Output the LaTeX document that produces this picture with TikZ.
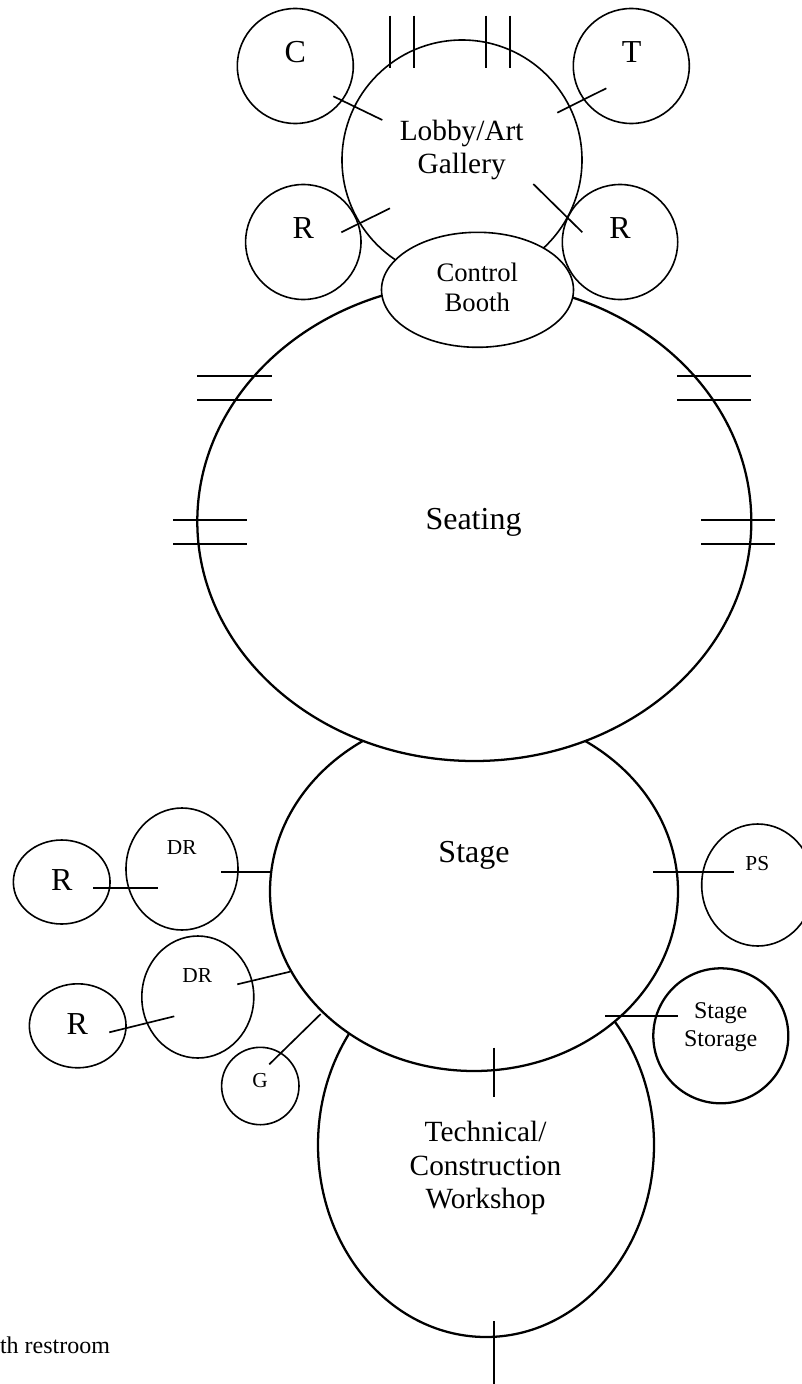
\documentclass[tikz,border=0pt]{standalone}
\usepackage{fontspec}
\setmainfont{Liberation Serif}
\usetikzlibrary{shapes.geometric}
\tikzset{
  bubble/.style 2 args={ellipse,draw=black,inner sep=0pt,outer sep=0pt,minimum width=#1*0.75pt,minimum height=#2*0.75pt},
  thin line/.style={line width=1.2pt},
  thick line/.style={line width=1.7pt},
  filled/.style={fill=white},
  tick/.style={draw=black,line width=1.25pt},
  lab/.style={anchor=base,inner sep=0pt,outer sep=0pt,text=black},
  L32/.style={lab,font=\fontsize{24pt}{24pt}\selectfont},
  L29/.style={lab,font=\fontsize{22pt}{22pt}\selectfont},
  L27/.style={lab,font=\fontsize{20pt}{20pt}\selectfont},
  L24/.style={lab,font=\fontsize{18pt}{18pt}\selectfont},
  L21/.style={lab,font=\fontsize{16pt}{16pt}\selectfont},
}
\begin{document}
\begin{tikzpicture}[x=0.75pt,y=-0.75pt]
\useasboundingbox (0,0) rectangle (802,1384);
\clip (0,0) rectangle (802,1384);
% large bubbles, back to front
\node[bubble={336}{384},thick line,filled] (workshop) at (486,1145) {};
\node[bubble={408}{359},thick line,filled] (stage) at (474,891.5) {};
\node[bubble={554}{479},thick line,filled] (seating) at (474.3,521.5) {};
\node[bubble={240}{240},thin line] (lobby) at (462,160) {};
\node[bubble={192}{115},thin line,filled] (booth) at (477.5,289.8) {};
% small bubbles
\node[bubble={116}{115},thin line] (cafe) at (295.3,66) {};
\node[bubble={116}{115},thin line] (tick) at (631.3,66) {};
\node[bubble={115.4}{115},thin line] (rl) at (303.3,242) {};
\node[bubble={115.4}{115},thin line] (rr) at (620,242) {};
\node[bubble={96.7}{84},thin line] (r1) at (61.7,882) {};
\node[bubble={112}{122},thin line] (dr1) at (182,869) {};
\node[bubble={112}{122},thin line] (dr2) at (197.8,997) {};
\node[bubble={96.7}{84},thin line] (r2) at (77.7,1025.8) {};
\node[bubble={77.4}{77.4},thin line] (g) at (260.3,1086) {};
\node[bubble={112}{122},thin line] (ps) at (757.7,885) {};
\node[bubble={135}{135},thick line] (storage) at (720.8,1035.8) {};
% door ticks: lobby
\path[tick] (389.7,15.7) -- (389.7,68.3);
\path[tick] (413.7,15.7) -- (413.7,68.3);
\path[tick] (485.7,15.7) -- (485.7,68.3);
\path[tick] (510,15.7) -- (510,68.3);
\path[tick] (333.3,96.3) -- (382.3,120);
\path[tick] (557.3,112.7) -- (606.3,88.3);
\path[tick] (341.3,232.3) -- (390,208.3);
\path[tick] (533.3,184) -- (582.3,232.3);
% door ticks: seating
\path[tick] (197,376) -- (272,376);
\path[tick] (197,400) -- (272,400);
\path[tick] (677,376) -- (751,376);
\path[tick] (677,400) -- (751,400);
\path[tick] (173,520) -- (247,520);
\path[tick] (173,544) -- (247,544);
\path[tick] (701,520) -- (775,520);
\path[tick] (701,544) -- (775,544);
% door ticks: stage
\path[tick] (93.3,888.3) -- (158.3,888.3);
\path[tick] (221,872) -- (270,872);
\path[tick] (237.3,984.3) -- (290,971.7);
\path[tick] (109.3,1032.3) -- (174.3,1016.3);
\path[tick] (269.3,1064.3) -- (320.7,1014);
\path[tick] (653.3,872) -- (734.3,872);
\path[tick] (605,1016.3) -- (678.3,1016.3);
\path[tick] (494,1047.7) -- (494,1096.7);
\path[tick] (494,1321.4) -- (494,1384);
% labels
\node[L32] (tC) at (295.3,62.3) {C};
\node[L32] (tT) at (631.7,62.3) {T};
\node[L32] (tRl) at (303.3,238.3) {R};
\node[L32] (tRr) at (620,238.3) {R};
\node[L29] (tLobby) at (461.7,140.7) {Lobby/Art};
\node[L29] (tGallery) at (461.7,174) {Gallery};
\node[L27] (tControl) at (477.3,281) {Control};
\node[L27] (tBooth) at (477.3,311.7) {Booth};
\node[L32] (tSeating) at (473.5,529.3) {Seating};
\node[L32] (tStage) at (474,862) {Stage};
\node[L32] (tR1) at (61.7,890) {R};
\node[L32] (tR2) at (77.3,1034) {R};
\node[L21] (tDR1) at (181.7,854) {DR};
\node[L21] (tDR2) at (197.3,982.3) {DR};
\node[L21] (tG) at (260,1087) {G};
\node[L21] (tPS) at (757.3,870) {PS};
\node[L24] (tStage2) at (720.7,1018.3) {Stage};
\node[L24] (tStorage) at (720.7,1046) {Storage};
\node[L29] (tTech) at (485.5,1141.7) {Technical/};
\node[L29] (tCons) at (485.5,1175) {Construction};
\node[L29] (tWork) at (485.5,1208.3) {Workshop};
\node[L24,anchor=base west] (tRest) at (0,1353.6) {th restroom};
\end{tikzpicture}
\end{document}
